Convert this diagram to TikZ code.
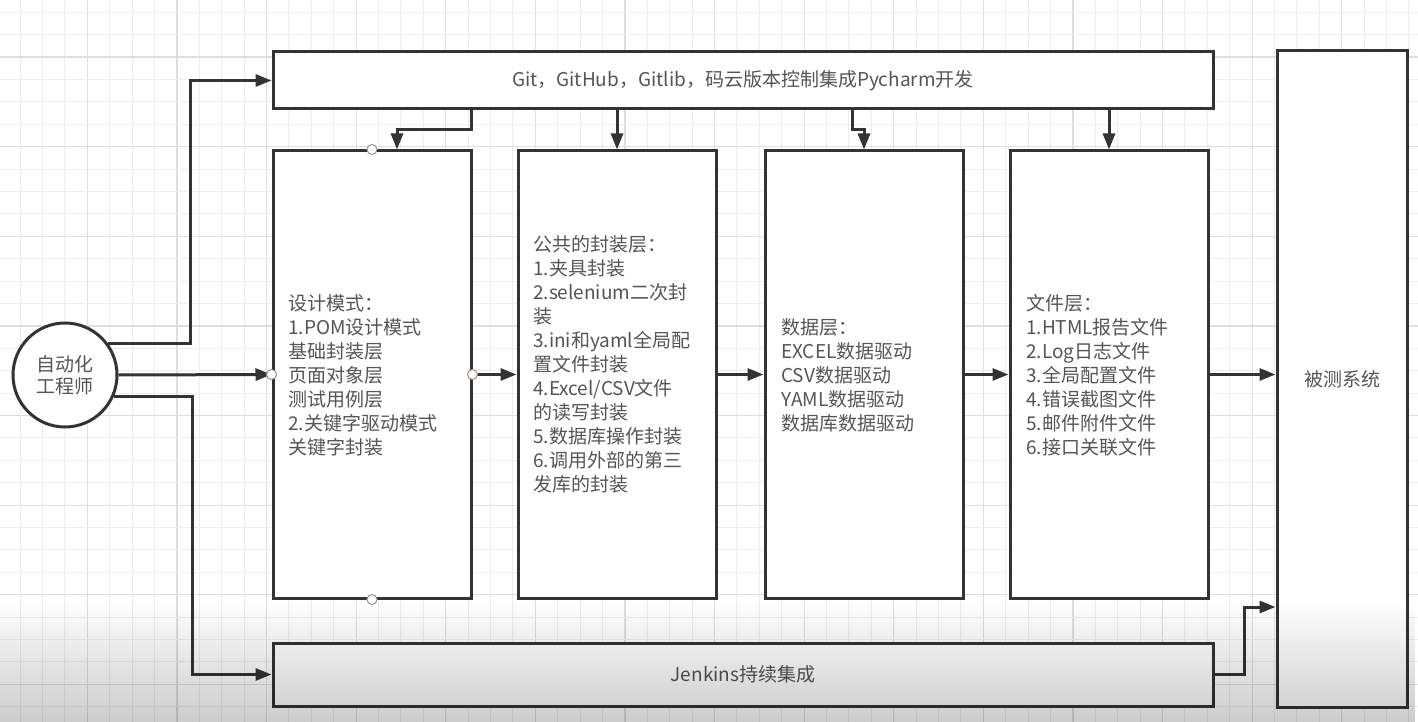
\documentclass[tikz,border=0pt]{standalone}
\usepackage{fontspec}
\setmainfont{Noto Sans CJK SC}
\usetikzlibrary{arrows.meta,fadings,calc}
\definecolor{ln}{HTML}{333333}
\definecolor{tx}{HTML}{555555}
\definecolor{ptc}{HTML}{B08A8A}
\begin{document}
\begin{tikzpicture}[x=1pt,y=-1pt,
  box/.style={draw=ln, line width=3pt, fill=white, inner sep=0pt},
  arr/.style={draw=ln, line width=3pt, -{Triangle[length=16pt,width=12pt]}},
  txt/.style={text=tx, font=\fontsize{19}{24}\selectfont, align=left, inner sep=0pt},
  dotc/.style={circle, draw=ptc, fill=white, line width=1pt, minimum size=10pt, inner sep=0pt},
  gmin/.style={draw=black!7, line width=1pt},
  gmaj/.style={draw=black!13, line width=1.2pt}]
\useasboundingbox (0,0) rectangle (1418,722);
\fill[white] (0,0) rectangle (1418,722);
% grid
\foreach \i in {0,...,62}{
  \pgfmathtruncatemacro\m{mod(\i,4)}
  \ifnum\m=3 \draw[gmaj] (20.1+22.4*\i,0) -- (20.1+22.4*\i,722);
  \else \draw[gmin] (20.1+22.4*\i,0) -- (20.1+22.4*\i,722); \fi}
\foreach \i in {0,...,31}{
  \pgfmathtruncatemacro\m{mod(\i,4)}
  \ifnum\m=2 \draw[gmaj] (0,12.3+22.4*\i) -- (1418,12.3+22.4*\i);
  \else \draw[gmin] (0,12.3+22.4*\i) -- (1418,12.3+22.4*\i); \fi}
% boxes
\node[box, txt, align=center, minimum width=940pt, minimum height=57pt] (top) at (743,80.5) {Git，GitHub，Gitlib，码云版本控制集成Pycharm开发};
\node[box, minimum width=198pt, minimum height=447pt] (b1) at (372,374.5) {};
\node[box, minimum width=198pt, minimum height=447pt] (b2) at (617,374.5) {};
\node[box, minimum width=198pt, minimum height=447pt] (b3) at (864,374.5) {};
\node[box, minimum width=198pt, minimum height=447pt] (b4) at (1109,374.5) {};
\node[box, txt, align=center, minimum width=130pt, minimum height=656pt] (rb) at (1342,379) {被测系统};
\node[box, txt, align=center, minimum width=940pt, minimum height=63pt] (bot) at (743,674.5) {Jenkins持续集成};
\node[circle, draw=ln, line width=3pt, fill=white, minimum size=104pt, inner sep=0pt, txt, align=center, font=\fontsize{19}{22}\selectfont] (eng) at (65,375) {自动化\\工程师};
% texts
\node[txt, anchor=west] (t1) at (288,375.5) {设计模式：\\1.POM设计模式\\基础封装层\\页面对象层\\测试用例层\\2.关键字驱动模式\\关键字封装};
\node[txt, anchor=west] (t2) at (533,364) {公共的封装层：\\1.夹具封装\\2.selenium二次封\\装\\3.ini和yaml全局配\\置文件封装\\4.Excel/CSV文件\\的读写封装\\5.数据库操作封装\\6.调用外部的第三\\发库的封装};
\node[txt, anchor=west] (t3) at (781,375.5) {数据层：\\EXCEL数据驱动\\CSV数据驱动\\YAML数据驱动\\数据库数据驱动};
\node[txt, anchor=west] (t4) at (1026,375) {文件层：\\1.HTML报告文件\\2.Log日志文件\\3.全局配置文件\\4.错误截图文件\\5.邮件附件文件\\6.接口关联文件};
% connectors
\draw[arr] (eng.36) -| (190,0 |- top.west) -- (top.west);
\draw[arr] (eng.east) -- (b1.west);
\draw[arr] (eng.-24) -| (192,0 |- bot.west) -- (bot.west);
\coordinate (k1) at (471,130);
\coordinate (k3) at (852,130);
\draw[arr] (top.south -| k1) -- (k1) -| ([xshift=25pt]b1.north);
\draw[arr] (top.south -| b2.north) -- (b2.north);
\draw[arr] (top.south -| k3) -- (k3) -| (b3.north);
\draw[arr] (top.south -| b4.north) -- (b4.north);
\draw[arr] (b1.east) -- (b2.west);
\draw[arr] (b2.east) -- (b3.west);
\draw[arr] (b3.east) -- (b4.west);
\draw[arr] (b4.east) -- (b4.east -| rb.west);
\coordinate (k5) at (1244,607);
\draw[arr] (bot.east) -| (k5) -- (k5 -| rb.west);
% connection points
\node[dotc] (d1) at (b1.north) {};
\node[dotc] (d2) at (b1.south) {};
\node[dotc] (d3) at (b1.west) {};
\node[dotc] (d4) at (b1.east) {};
% bottom darkening
\fill[black, fill opacity=0.2, path fading=north] (0,600) rectangle (1418,722);
\end{tikzpicture}
\end{document}
